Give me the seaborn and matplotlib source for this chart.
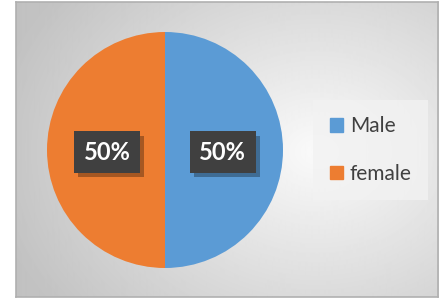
import numpy as np
import matplotlib
matplotlib.use("Agg")
import matplotlib.pyplot as plt
import matplotlib.patches as mpatches
import matplotlib.patheffects as pe
import seaborn as sns

labels = ["Male", "female"]
values = [50, 50]
colors = ["#5B9BD5", "#ED7D31"]

sns.set_theme(style="white")
plt.rcParams['font.family'] = ['Lato', 'DejaVu Sans']

W, H = 440, 298
fig = plt.figure(figsize=(W / 100, H / 100), dpi=100)
fig.patch.set_facecolor("white")

# gradient background of the chart area
bg = fig.add_axes([16 / W, 1 / H, 422 / W, 295 / H])
yy, xx = np.mgrid[0:295, 0:422]
d = np.sqrt(((xx - 300) / 330.0) ** 2 + ((yy - 150) / 260.0) ** 2)
shade = np.clip(0.98 - 0.22 * d, 0.76, 0.98)
bg.imshow(shade, cmap="gray", vmin=0, vmax=1, aspect="auto", interpolation="bilinear")
bg.set_xticks([])
bg.set_yticks([])
for s in bg.spines.values():
    s.set_color("#b0b0b0")
    s.set_linewidth(1.2)

# pie
ax = fig.add_axes([47 / W, 30 / H, 236 / W, 236 / H])
ax.set_facecolor("none")
wedges, _ = ax.pie(values, colors=colors, startangle=90, counterclock=False,
                   radius=1, wedgeprops=dict(linewidth=0))
ax.set_xlim(-1, 1)
ax.set_ylim(-1, 1)
ax.set_aspect("equal")
ax.axis("off")

total = sum(values)
for w, v in zip(wedges, values):
    mid = np.deg2rad((w.theta1 + w.theta2) / 2)
    x, y = 0.49 * np.cos(mid), 0.49 * np.sin(mid) - 0.02
    t = ax.text(x, y, f"{v / total * 100:.0f}%", ha="center", va="center", fontsize=17,
                fontweight="bold", color="white",
                bbox=dict(boxstyle="square,pad=0.4", fc="#404040", ec="none"))
    t.get_bbox_patch().set_path_effects(
        [pe.SimplePatchShadow(offset=(3, -3), shadow_rgbFace="black", alpha=0.3), pe.Normal()])

handles = [mpatches.Patch(color=c, label=l) for c, l in zip(colors, labels)]
leg = fig.legend(handles=handles, loc="center left", bbox_to_anchor=(303 / W, 148 / H),
                 frameon=True, fontsize=15, handlelength=0.6, handleheight=0.6,
                 handletextpad=0.35, labelspacing=1.3, borderpad=0.8, fancybox=False)
leg.get_frame().set_facecolor("#f2f2f2")
leg.get_frame().set_edgecolor("none")
for t in leg.get_texts():
    t.set_color("#404040")

fig.savefig("out.png", dpi=100)
